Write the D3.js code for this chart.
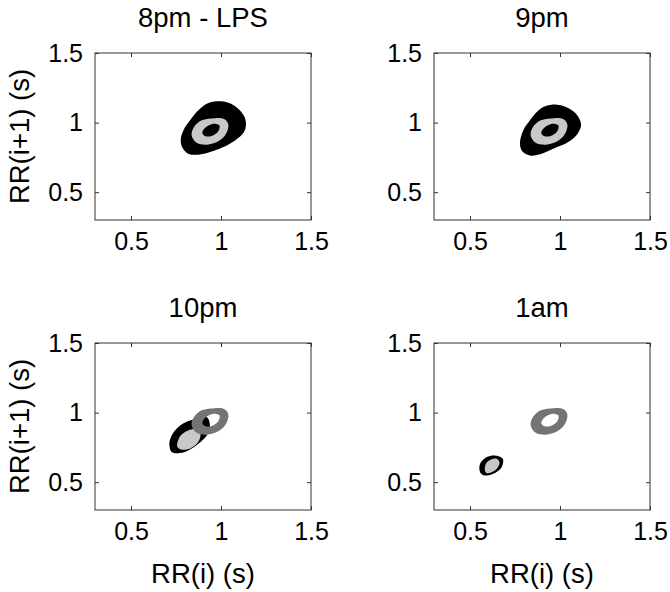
<!DOCTYPE html>
<html>

<head>
    <title>RR Poincare contours</title>
    <script src="https://d3js.org/d3.v7.min.js"></script>
    <meta name="viewport" content="width=device-width, initial-scale=1">
    <style>
        body {
            margin: 0;
            background: #ffffff;
            font-family: 'Liberation Sans', Arial, sans-serif;
        }

        svg text {
            fill: #000;
        }
    </style>
</head>

<body>
    <svg width="670" height="592"></svg>
    <script>
        // axis setup (data units, seconds)
        var xDomain = [0.3, 1.5];
        var yDomain = [0.3, 1.5];
        var xTicks = [0.5, 1, 1.5];
        var yTicks = [0.5, 1, 1.5];
        var titles = ["8pm - LPS", "9pm", "10pm", "1am"];
        var xLabel = "RR(i) (s)";
        var yLabel = "RR(i+1) (s)";

        // contour outlines, [RR(i), RR(i+1)]
        var refRingOuter = [[0.837, 0.908], [0.850, 0.968], [0.893, 1.016], [0.967, 1.032], [1.022, 1.023],
            [1.041, 0.985], [1.028, 0.920], [0.985, 0.865], [0.921, 0.841], [0.865, 0.855]];
        var refRingInner = [[0.896, 0.927], [0.917, 0.968], [0.957, 0.992], [0.991, 0.980],
            [0.985, 0.937], [0.948, 0.903], [0.911, 0.903]];

        var blob8pm = [[0.976, 1.153], [1.041, 1.143], [1.096, 1.100], [1.128, 1.047], [1.139, 0.992],
            [1.128, 0.932], [1.078, 0.872], [1.013, 0.824], [0.939, 0.788], [0.874, 0.769], [0.818, 0.776],
            [0.787, 0.817], [0.776, 0.872], [0.791, 0.944], [0.828, 1.016], [0.874, 1.088], [0.921, 1.136]];

        var blob9pm = [[0.954, 1.129], [1.018, 1.119], [1.074, 1.081], [1.106, 1.032], [1.117, 0.980],
            [1.098, 0.920], [1.046, 0.860], [0.972, 0.817], [0.898, 0.776], [0.833, 0.764], [0.787, 0.800],
            [0.778, 0.860], [0.796, 0.944], [0.833, 1.016], [0.871, 1.076], [0.907, 1.112]];

        var blob10pm = [[0.726, 0.716], [0.713, 0.776], [0.726, 0.836], [0.763, 0.896], [0.818, 0.939],
            [0.874, 0.958], [0.922, 0.966], [0.939, 0.896], [0.921, 0.836], [0.874, 0.776], [0.818, 0.728],
            [0.772, 0.709]];
        var core10pm = [[0.757, 0.757], [0.772, 0.829], [0.817, 0.872], [0.867, 0.879], [0.886, 0.850],
            [0.872, 0.786], [0.828, 0.742], [0.778, 0.735]];

        var blob1am = [[0.556, 0.572], [0.556, 0.632], [0.593, 0.680], [0.639, 0.692], [0.682, 0.668],
            [0.676, 0.608], [0.629, 0.560], [0.583, 0.548]];
        var core1am = [[0.583, 0.584], [0.589, 0.635], [0.617, 0.663], [0.650, 0.667], [0.664, 0.642],
            [0.650, 0.599], [0.617, 0.570], [0.592, 0.566]];

        var black = "#000000", lightGray = "#c8c8c8", darkGray = "#747474";

        // layers drawn bottom to top for each panel
        var panelLayers = [
            [{ outer: blob8pm, fill: black }, { outer: refRingOuter, hole: refRingInner, fill: lightGray }],
            [{ outer: blob9pm, fill: black }, { outer: refRingOuter, hole: refRingInner, fill: lightGray }],
            [{ outer: blob10pm, fill: black }, { outer: core10pm, fill: lightGray },
            { outer: refRingOuter, hole: refRingInner, fill: darkGray }],
            [{ outer: blob1am, fill: black }, { outer: core1am, fill: lightGray },
            { outer: refRingOuter, hole: refRingInner, fill: darkGray }]
        ];

        var svg = d3.select("svg");
        var pw = 216, ph = 167;
        var origins = [[95, 53], [434, 53], [95, 343], [434, 343]];
        var fontSize = 25;
        var labelSize = 27.5; // titles and axis labels a bit larger, matlab style

        var x = d3.scaleLinear().domain(xDomain).range([0, pw]);
        var y = d3.scaleLinear().domain(yDomain).range([ph, 0]);

        var line = d3.line()
            .x(d => x(d[0]))
            .y(d => y(d[1]))
            .curve(d3.curveCatmullRomClosed.alpha(0.5));

        origins.forEach(function (o, i) {
            var g = svg.append("g").attr("transform", "translate(" + o[0] + "," + o[1] + ")");

            g.append("clipPath").attr("id", "clip" + i)
                .append("rect").attr("width", pw).attr("height", ph);

            var marks = g.append("g").attr("clip-path", "url(#clip" + i + ")");
            panelLayers[i].forEach(function (layer) {
                var d = line(layer.outer);
                if (layer.hole) d += line(layer.hole);
                marks.append("path")
                    .attr("d", d)
                    .attr("fill", layer.fill)
                    .attr("fill-rule", "evenodd");
            });

            // inward ticks on all four sides, labels on bottom and left
            var bottom = g.append("g").attr("transform", "translate(0," + ph + ")")
                .call(d3.axisBottom(x).tickValues(xTicks).tickSizeInner(-4).tickSizeOuter(0)
                    .tickPadding(12).tickFormat(d => String(d)));
            var left = g.append("g")
                .call(d3.axisLeft(y).tickValues(yTicks).tickSizeInner(-4).tickSizeOuter(0)
                    .tickPadding(12).tickFormat(d => String(d)));
            var top = g.append("g")
                .call(d3.axisTop(x).tickValues(xTicks).tickSizeInner(-4).tickSizeOuter(0).tickFormat(""));
            var right = g.append("g").attr("transform", "translate(" + pw + ",0)")
                .call(d3.axisRight(y).tickValues(yTicks).tickSizeInner(-4).tickSizeOuter(0).tickFormat(""));

            [bottom, left, top, right].forEach(function (a) {
                a.select(".domain").remove();
                a.selectAll("line").attr("stroke", "#333");
                a.selectAll("text")
                    .attr("font-family", "'Liberation Sans', Arial, sans-serif")
                    .attr("font-size", fontSize)
                    .attr("fill", "#000");
            });

            g.append("rect")
                .attr("width", pw).attr("height", ph)
                .attr("fill", "none")
                .attr("stroke", "#333")
                .attr("stroke-width", 1);

            g.append("text")
                .attr("x", pw / 2).attr("y", -26)
                .attr("text-anchor", "middle")
                .attr("font-size", labelSize)
                .text(titles[i]);

            if (i % 2 === 0) {
                g.append("text")
                    .attr("transform", "translate(" + (-66) + "," + (ph / 2) + ") rotate(-90)")
                    .attr("text-anchor", "middle")
                    .attr("font-size", labelSize)
                    .text(yLabel);
            }
            if (i >= 2) {
                g.append("text")
                    .attr("x", pw / 2).attr("y", ph + 73)
                    .attr("text-anchor", "middle")
                    .attr("font-size", labelSize)
                    .text(xLabel);
            }
        });
    </script>
</body>

</html>
